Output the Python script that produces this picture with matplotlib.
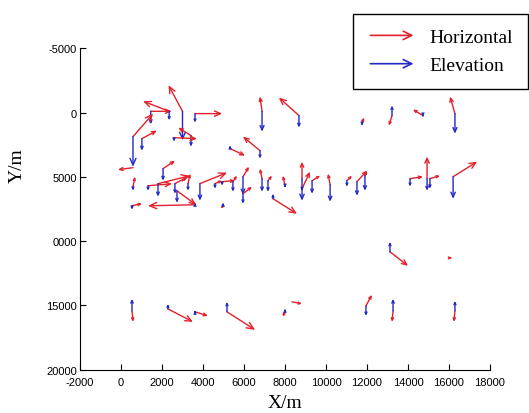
import numpy as np
import matplotlib
matplotlib.use("Agg")
import matplotlib.pyplot as plt
from matplotlib.lines import Line2D
from matplotlib.patches import FancyArrowPatch
from matplotlib.legend_handler import HandlerBase

plt.rcParams["axes.unicode_minus"] = False

# station positions (m) and displacement vectors (m, drawn in axis units)
X = [3000, 1450, 2350, 3610, 585, 1020, 3415, 2585, 6780, 5320,
     6880, 8680, 11760, 13220, 14730, 16290, 585, 585, 2050, 1320,
     1805, 2630, 3270, 3610, 2730, 537, 3850, 4585, 4930, 5460,
     4980, 5950, 5950, 6880, 7170, 7415, 8000, 8830, 8830, 9320,
     10200, 11020, 11510, 11900, 14100, 14930, 15070, 16200, 13120, 16050,
     537, 2290, 3610, 5170, 8000, 8340, 11950, 13270, 16290]
Y = [-100, -100, -100, 80, 1870, 2025, 1790, 1950, 2960, 2800,
     -80, 230, 780, 230, 230, 80, 4285, 5765, 4360, 5690,
     5530, 5530, 5530, 7170, 6080, 7245, 5530, 5530, 5375, 5375,
     7245, 4990, 6310, 5140, 5300, 6700, 5690, 5140, 5920, 5300,
     5610, 5300, 5375, 4910, 5140, 5140, 5140, 4990, 10830, 11300,
     15420, 15270, 15500, 15500, 15420, 14720, 15035, 15420, 15420]
# horizontal displacement (red)
DX = [-680, 1020, -1270, 1320, 980, 730, -620, 1120, -830, 730,
      -100, -980, 100, -150, -490, -240, -730, 100, 585, 1170,
      1560, 630, 100, -2290, 930, 490, 1320, 340, 630, 195,
      -100, 290, 440, -100, 195, 1170, -100, 0, 390, 390,
      -100, 245, 490, 100, 630, 0, 490, 1170, 880, 100,
      50, 1220, 630, 1370, -100, 490, 290, -50, -50]
DY = [-2025, 0, -780, 0, -1790, -620, -620, 80, -1090, 545,
      -1170, -1400, -390, 780, -470, -1320, 155, -780, -620, -155,
      -620, -545, -780, 80, 1090, -155, -860, -235, -80, -470,
      235, -780, -545, -780, -390, 1170, -780, -1320, -1320, -390,
      -860, -390, -860, -390, -155, -1710, -235, -1170, 1090, 0,
      860, 1010, 310, 1400, 470, 155, -860, 860, 860]
# elevation displacement (blue)
DZ = [2260, 1010, 700, 700, 2340, 935, 860, 310, 620, -235,
      1560, 935, 235, -780, 80, 1560, 0, 310, 935, 390,
      1010, 780, 545, -155, 935, 310, 1320, 390, 310, 780,
      -235, 1400, 780, 1010, 860, -390, 155, 1710, 155, 1010,
      1320, 470, 1090, 1170, 620, 935, 780, 1710, -780, 0,
      -935, -390, -80, -780, -155, 0, 780, -935, -780]

RED = "#e4202a"
BLUE = "#2228c4"

fig = plt.figure(figsize=(5.29, 4.14), dpi=100)
ax = fig.add_axes([80 / 529, 43.3 / 414, 410 / 529, 321.4 / 414])
ax.set_xlim(-2000, 18000)
ax.set_ylim(20000, -5000)


def draw_arrow(x0, y0, x1, y1, color):
    p0 = ax.transData.transform((x0, y0))
    p1 = ax.transData.transform((x1, y1))
    length = np.hypot(*(p1 - p0))
    if length < 1:
        return
    hl = np.clip(0.22 * length, 2.0, 7.0) * 0.72
    ax.annotate("", xy=(x1, y1), xytext=(x0, y0),
                arrowprops=dict(arrowstyle=f"->,head_length={hl:.2f},head_width={hl * 0.45:.2f}",
                                color=color, lw=1.0, shrinkA=0, shrinkB=0,
                                mutation_scale=1))


for x, y, dx, dy, dz in zip(X, Y, DX, DY, DZ):
    draw_arrow(x, y, x + dx, y + dy, RED)
    draw_arrow(x, y, x, y + dz, BLUE)

ax.set_xticks(np.arange(-2000, 18001, 2000))
ax.set_yticks([-5000, 0, 5000, 10000, 15000, 20000])
ax.set_yticklabels(["-5000", "0", "5000", "0000", "15000", "20000"])
for lab in ax.get_xticklabels() + ax.get_yticklabels():
    lab.set_family("Liberation Sans")
    lab.set_fontsize(8)
ax.tick_params(direction="in", length=4, width=0.8)
ax.tick_params(axis="y", pad=2)
ax.tick_params(axis="x", pad=5)
ax.spines["top"].set_visible(False)
ax.spines["right"].set_visible(False)

ax.set_xlabel("X/m", family="Liberation Serif", fontsize=14, labelpad=5)
ax.set_ylabel("Y/m", family="Liberation Serif", fontsize=14)
ax.yaxis.set_label_coords(-0.132, 0.638)


class ArrowHandler(HandlerBase):
    def create_artists(self, legend, orig_handle, xdescent, ydescent,
                       width, height, fontsize, trans):
        y = height / 2 - ydescent
        arr = FancyArrowPatch((-xdescent, y), (width - xdescent, y),
                              arrowstyle="->,head_length=6,head_width=3",
                              mutation_scale=1, color=orig_handle.get_color(),
                              lw=1.2, transform=trans)
        return [arr]


handles = [Line2D([], [], color=RED), Line2D([], [], color=BLUE)]
leg = fig.legend(handles, ["Horizontal", "Elevation"],
                 handler_map={Line2D: ArrowHandler()},
                 loc="upper left", bbox_to_anchor=(353 / 529, 1 - 15 / 414),
                 prop={"family": "Liberation Serif", "size": 14},
                 fancybox=False, edgecolor="black", framealpha=1,
                 handlelength=2.5, handletextpad=0.7, borderpad=0.75,
                 labelspacing=0.55, borderaxespad=0)
leg.get_frame().set_linewidth(1.0)

fig.savefig("out.png", dpi=100)
